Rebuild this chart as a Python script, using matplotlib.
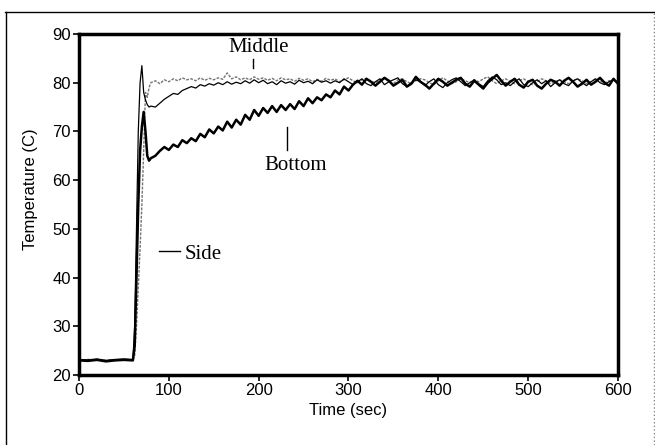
import matplotlib.pyplot as plt
from matplotlib.lines import Line2D

# time grid (sec)
t_base = [0, 10, 20, 30, 40, 50, 60]
t_rise = [62, 64, 66, 68, 70, 72, 74, 76, 78, 80]
t_rest = list(range(85, 601, 5))
time = t_base + t_rise + t_rest

bottom = [23.0, 22.9, 23.1, 22.8, 23.0, 23.1, 23.0,
          26.0, 40.0, 55.0, 66.0, 71.0, 74.0, 70.0, 65.0, 64.0, 64.5,
          65.0, 66.0, 66.8, 66.2, 67.3, 66.8, 68.2, 67.6, 68.6, 68.0,
          69.5, 68.8, 70.4, 69.6, 71.0, 70.2, 72.0, 70.8, 72.4, 71.4,
          73.4, 72.4, 74.4, 73.2, 74.8, 73.8, 75.2, 74.0, 75.4, 74.4,
          75.6, 74.6, 76.2, 75.2, 76.8, 75.8, 77.0, 76.4, 77.6, 77.0,
          78.4, 77.6, 79.2, 78.4, 79.6, 80.4, 79.6, 80.8, 80.2, 79.4,
          80.2, 81.0, 80.4, 79.4, 80.0, 80.6, 79.2, 79.8, 81.2, 80.2,
          79.6, 78.8, 79.8, 80.8, 80.2, 79.4, 80.0, 80.6, 81.0, 79.8,
          79.2, 80.4, 79.6, 78.8, 80.0, 80.8, 81.6, 80.4, 79.4, 80.2,
          80.8, 79.6, 79.0, 80.2, 80.6, 79.4, 78.8, 79.8, 80.6, 80.2,
          79.4, 80.4, 81.0, 80.2, 79.2, 79.8, 80.6, 79.6, 80.2, 81.0,
          80.0, 79.4, 80.8, 79.8]

middle = [23.2, 23.1, 23.3, 23.0, 23.2, 23.3, 23.2,
          30.0, 50.0, 70.0, 80.0, 83.5, 78.0, 76.5, 75.5, 75.0, 75.2,
          75.0, 75.8, 76.6, 77.2, 77.8, 77.6, 78.4, 78.8, 79.2, 78.9,
          79.6, 79.3, 79.8, 79.5, 80.0, 79.6, 80.2, 79.7, 80.1, 79.8,
          80.4, 79.9, 80.6, 80.0, 80.5, 79.8, 80.2, 79.6, 80.4, 79.9,
          80.2, 79.7, 80.5, 80.0, 80.3, 79.8, 80.6, 80.1, 80.4, 79.9,
          80.4, 80.0, 80.8, 80.2, 79.6, 80.2, 80.8, 79.8, 79.4, 80.2,
          80.8, 79.6, 80.2, 80.6, 81.0, 79.8, 79.2, 80.0, 80.6, 80.2,
          79.4, 80.2, 80.8, 79.6, 79.0, 80.0, 80.6, 81.0, 80.2, 79.4,
          80.0, 80.6, 79.8, 79.2, 80.4, 81.2, 80.6, 79.6, 80.0, 79.4,
          80.2, 80.8, 79.6, 79.2, 80.0, 80.6, 79.8, 80.4, 79.2, 80.0,
          80.6, 79.8, 79.4, 80.4, 80.8, 80.0, 79.4, 80.2, 80.8, 80.0,
          79.6, 80.2, 80.6, 79.8]

side = [23.0, 23.2, 23.1, 23.0, 23.1, 23.2, 23.1,
        24.0, 30.0, 38.0, 46.0, 55.0, 66.0, 78.0, 77.0, 79.0, 80.0,
        80.4, 79.8, 80.6, 80.2, 80.8, 80.4, 81.0, 80.6, 80.8, 80.4,
        81.0, 80.5, 80.9, 80.6, 81.0, 80.7, 82.0, 80.8, 81.2, 80.6,
        81.0, 80.6, 81.2, 80.7, 81.0, 80.5, 80.9, 80.4, 81.0, 80.6,
        80.8, 80.3, 80.9, 80.5, 80.8, 80.2, 80.7, 80.3, 80.9, 80.5,
        80.8, 80.2, 80.6, 81.0, 80.4, 80.0, 80.6, 80.9, 80.3, 80.0,
        80.6, 81.0, 80.2, 79.8, 80.6, 80.8, 80.2, 79.8, 80.4, 80.8,
        80.6, 80.0, 79.6, 80.4, 81.0, 80.4, 79.8, 80.2, 80.8, 80.4,
        80.0, 80.6, 80.2, 80.8, 81.2, 80.4, 79.8, 80.4, 80.8, 80.2,
        79.8, 80.4, 80.8, 80.2, 79.6, 80.2, 80.8, 80.4, 79.8, 80.2,
        80.6, 80.2, 79.8, 80.4, 80.8, 80.4, 79.8, 80.2, 80.8, 80.4,
        80.0, 80.4, 80.6, 80.2]

xticks = [0, 100, 200, 300, 400, 500, 600]
yticks = [20, 30, 40, 50, 60, 70, 80, 90]

sans = 'Liberation Sans'
serif = 'Liberation Serif'

fig = plt.figure(figsize=(6.55, 4.45), dpi=100)
ax = fig.add_axes([0.1206, 0.1573, 0.8229, 0.7663])

ax.plot(time, side, color='0.45', lw=1.0, ls=(0, (2, 1)))
ax.plot(time, middle, color='black', lw=0.9)
ax.plot(time, bottom, color='black', lw=1.8)

ax.set_xlim(0, 600)
ax.set_ylim(20, 90)
ax.set_xticks(xticks)
ax.set_yticks(yticks)
ax.tick_params(direction='out', length=4, width=1.2, labelsize=12, pad=2)
for lab in ax.get_xticklabels() + ax.get_yticklabels():
    lab.set_fontfamily(sans)
for s in ax.spines.values():
    s.set_linewidth(2.5)

ax.set_xlabel('Time (sec)', fontsize=12, family=sans, labelpad=3)
fig.text(30 / 655, 1 - 189 / 445, 'Temperature (C)', rotation=90,
         fontsize=12, family=sans, ha='center', va='center')

# annotations
ax.text(200, 87.2, 'Middle', fontsize=15, family=serif, ha='center', va='center')
ax.plot([194, 194], [83.0, 84.9], color='black', lw=1)
ax.text(241, 63.0, 'Bottom', fontsize=15, family=serif, ha='center', va='center')
ax.plot([232, 232], [66.2, 70.9], color='black', lw=1)
ax.text(118, 44.8, 'Side', fontsize=15, family=serif, ha='left', va='center')
ax.plot([89, 112], [45.4, 45.4], color='black', lw=1)

# outer frame of the scanned figure
fig.add_artist(Line2D([0.008, 1.0], [0.972, 0.972], color='black', lw=1))
fig.add_artist(Line2D([0.009, 0.009], [0.0, 0.972], color='black', lw=1))
fig.add_artist(Line2D([0.998, 0.998], [0.0, 0.972], color='0.5', lw=1, ls=':'))

fig.savefig('out.png', dpi=100)
